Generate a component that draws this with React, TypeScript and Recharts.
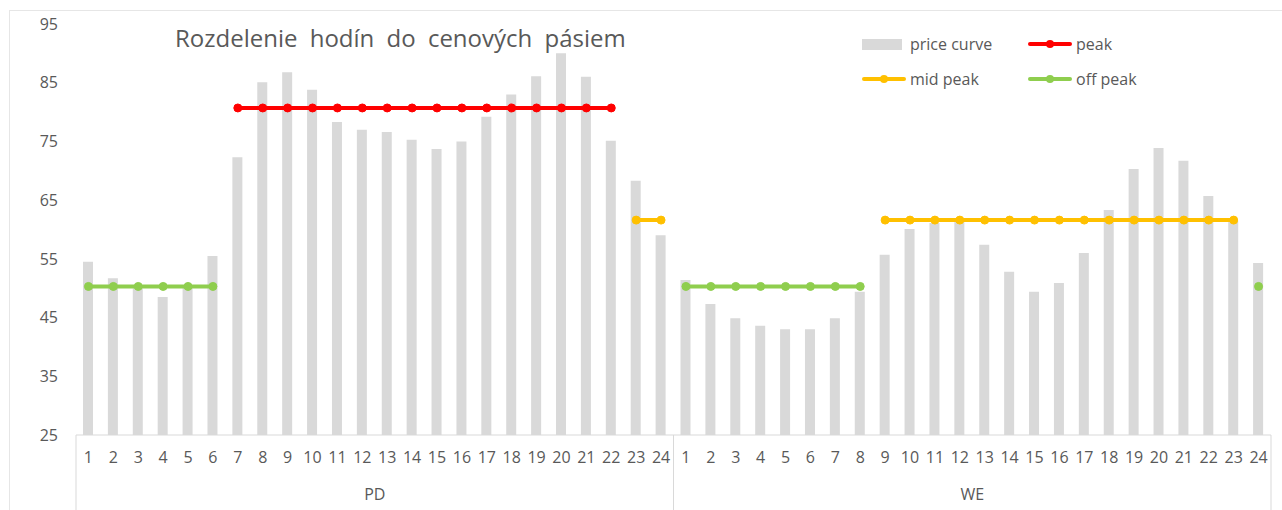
import { Bar, ComposedChart, Legend, Line, XAxis, YAxis } from 'recharts';

const groups = ['PD', 'WE'];
const hours = [
  '1', '2', '3', '4', '5', '6', '7', '8', '9', '10', '11', '12',
  '13', '14', '15', '16', '17', '18', '19', '20', '21', '22', '23', '24',
];

const pricePD = [54.5, 51.7, 50.0, 48.5, 50.2, 55.5, 72.3, 85.1, 86.8, 83.8, 78.3, 77.0, 76.6, 75.3, 73.7, 75.0, 79.2, 83.0, 86.1, 90.0, 86.0, 75.1, 68.3, 59.0];
const priceWE = [51.4, 47.3, 44.9, 43.6, 43.0, 43.0, 44.9, 49.4, 55.7, 60.1, 61.1, 61.3, 57.4, 52.8, 49.4, 50.9, 56.0, 63.3, 70.3, 73.9, 71.7, 65.7, 61.5, 54.3];

const n = null;
const peakPD = [n, n, n, n, n, n, 80.7, 80.7, 80.7, 80.7, 80.7, 80.7, 80.7, 80.7, 80.7, 80.7, 80.7, 80.7, 80.7, 80.7, 80.7, 80.7, n, n];
const peakWE = [n, n, n, n, n, n, n, n, n, n, n, n, n, n, n, n, n, n, n, n, n, n, n, n];
const midPD = [n, n, n, n, n, n, n, n, n, n, n, n, n, n, n, n, n, n, n, n, n, n, 61.6, 61.6];
const midWE = [n, n, n, n, n, n, n, n, 61.6, 61.6, 61.6, 61.6, 61.6, 61.6, 61.6, 61.6, 61.6, 61.6, 61.6, 61.6, 61.6, 61.6, 61.6, n];
const offPD = [50.3, 50.3, 50.3, 50.3, 50.3, 50.3, n, n, n, n, n, n, n, n, n, n, n, n, n, n, n, n, n, n];
const offWE = [50.3, 50.3, 50.3, 50.3, 50.3, 50.3, 50.3, 50.3, n, n, n, n, n, n, n, n, n, n, n, n, n, n, n, 50.3];

const yTicks = [25, 35, 45, 55, 65, 75, 85, 95];

const series = {
  price: [pricePD, priceWE],
  peak: [peakPD, peakWE],
  mid: [midPD, midWE],
  off: [offPD, offWE],
};

const data = groups.flatMap((g, gi) =>
  hours.map((h, hi) => ({
    group: g,
    hour: h,
    price: series.price[gi][hi],
    peak: series.peak[gi][hi],
    mid: series.mid[gi][hi],
    off: series.off[gi][hi],
  }))
);

const FONT = '"Open Sans", "Noto Sans", sans-serif';
const TEXT = '#595959';
const GRID = '#d9d9d9';
const RED = '#ff0000';
const ORANGE = '#ffc000';
const GREEN = '#8fce4e';

// second-level axis: group label plus the separators between PD / WE
function GroupTick(props: any) {
  const { x, y, payload } = props;
  const half = payload?.offset ?? 0;
  return (
    <g>
      <line x1={x - half} x2={x - half} y1={y - 35} y2={y + 40} stroke={GRID} />
      <line x1={x + half} x2={x + half} y1={y - 35} y2={y + 40} stroke={GRID} />
      <text x={x} y={y + 26} textAnchor="middle" dominantBaseline="middle" fill={TEXT} fontSize={16} fontFamily={FONT}>
        {payload.value}
      </text>
    </g>
  );
}

function LegendSwatch({ kind, color }: { kind: 'bar' | 'line'; color: string }) {
  if (kind === 'bar') {
    return (
      <svg width={44} height={14}>
        <rect x={0} y={2} width={40} height={11} fill={color} />
      </svg>
    );
  }
  return (
    <svg width={44} height={14}>
      <line x1={2} x2={42} y1={7} y2={7} stroke={color} strokeWidth={4} strokeLinecap="round" />
      <circle cx={22} cy={7} r={4} fill={color} />
    </svg>
  );
}

function ChartLegend() {
  const items = [
    { label: 'price curve', kind: 'bar' as const, color: GRID },
    { label: 'peak', kind: 'line' as const, color: RED },
    { label: 'mid peak', kind: 'line' as const, color: ORANGE },
    { label: 'off peak', kind: 'line' as const, color: GREEN },
  ];
  return (
    <div style={{ display: 'grid', gridTemplateColumns: '166px 140px', rowGap: 13, fontFamily: FONT, fontSize: 16, color: TEXT }}>
      {items.map((it) => (
        <div key={it.label} style={{ display: 'flex', alignItems: 'center', gap: 4, height: 22 }}>
          <LegendSwatch kind={it.kind} color={it.color} />
          <span>{it.label}</span>
        </div>
      ))}
    </div>
  );
}

export default function App() {
  return (
    <div style={{ position: 'absolute', left: 0, top: 0, width: 1282, height: 510, background: '#fff', overflow: 'hidden' }}>
      <div style={{ position: 'absolute', left: 9, top: 10, width: 1400, height: 600, borderTop: '1px solid #e6e6e6', borderLeft: '1px solid #e6e6e6' }} />
      <div
        style={{
          position: 'absolute',
          left: 175,
          top: 21,
          fontFamily: FONT,
          fontSize: 24,
          wordSpacing: 6,
          color: TEXT,
          whiteSpace: 'nowrap',
          zIndex: 2,
        }}
      >
        Rozdelenie hodín do cenových pásiem
      </div>
      <ComposedChart
        width={1282}
        height={510}
        data={data}
        margin={{ top: 24, right: 11, left: 0, bottom: 0 }}
        barCategoryGap={0}
      >
        <XAxis
          dataKey="hour"
          interval={0}
          height={35}
          tickLine={false}
          axisLine={{ stroke: GRID }}
          tickMargin={11}
          tick={{ fill: TEXT, fontSize: 16, fontFamily: FONT }}
        />
        <XAxis
          xAxisId="group"
          dataKey="group"
          allowDuplicatedCategory={false}
          height={40}
          axisLine={false}
          tickLine={false}
          tickSize={0}
          tickMargin={0}
          interval={0}
          tick={<GroupTick />}
        />
        <YAxis
          domain={[25, 95]}
          ticks={yTicks}
          width={76}
          axisLine={false}
          tickLine={false}
          tickMargin={12}
          tick={{ fill: TEXT, fontSize: 16, fontFamily: FONT }}
          allowDataOverflow
        />
        <Legend
          layout="horizontal"
          verticalAlign="middle"
          align="center"
          wrapperStyle={{ top: 33, left: 862, width: 330, bottom: 'auto', right: 'auto' }}
          content={<ChartLegend />}
        />
        <Bar dataKey="price" name="price curve" fill={GRID} barSize={10} isAnimationActive={false} />
        <Line dataKey="peak" name="peak" stroke={RED} strokeWidth={4} dot={{ r: 4, fill: RED, stroke: RED, strokeWidth: 1 }} isAnimationActive={false} />
        <Line dataKey="mid" name="mid peak" stroke={ORANGE} strokeWidth={4} dot={{ r: 4, fill: ORANGE, stroke: ORANGE, strokeWidth: 1 }} isAnimationActive={false} />
        <Line dataKey="off" name="off peak" stroke={GREEN} strokeWidth={4} dot={{ r: 4, fill: GREEN, stroke: GREEN, strokeWidth: 1 }} isAnimationActive={false} />
      </ComposedChart>
    </div>
  );
}
